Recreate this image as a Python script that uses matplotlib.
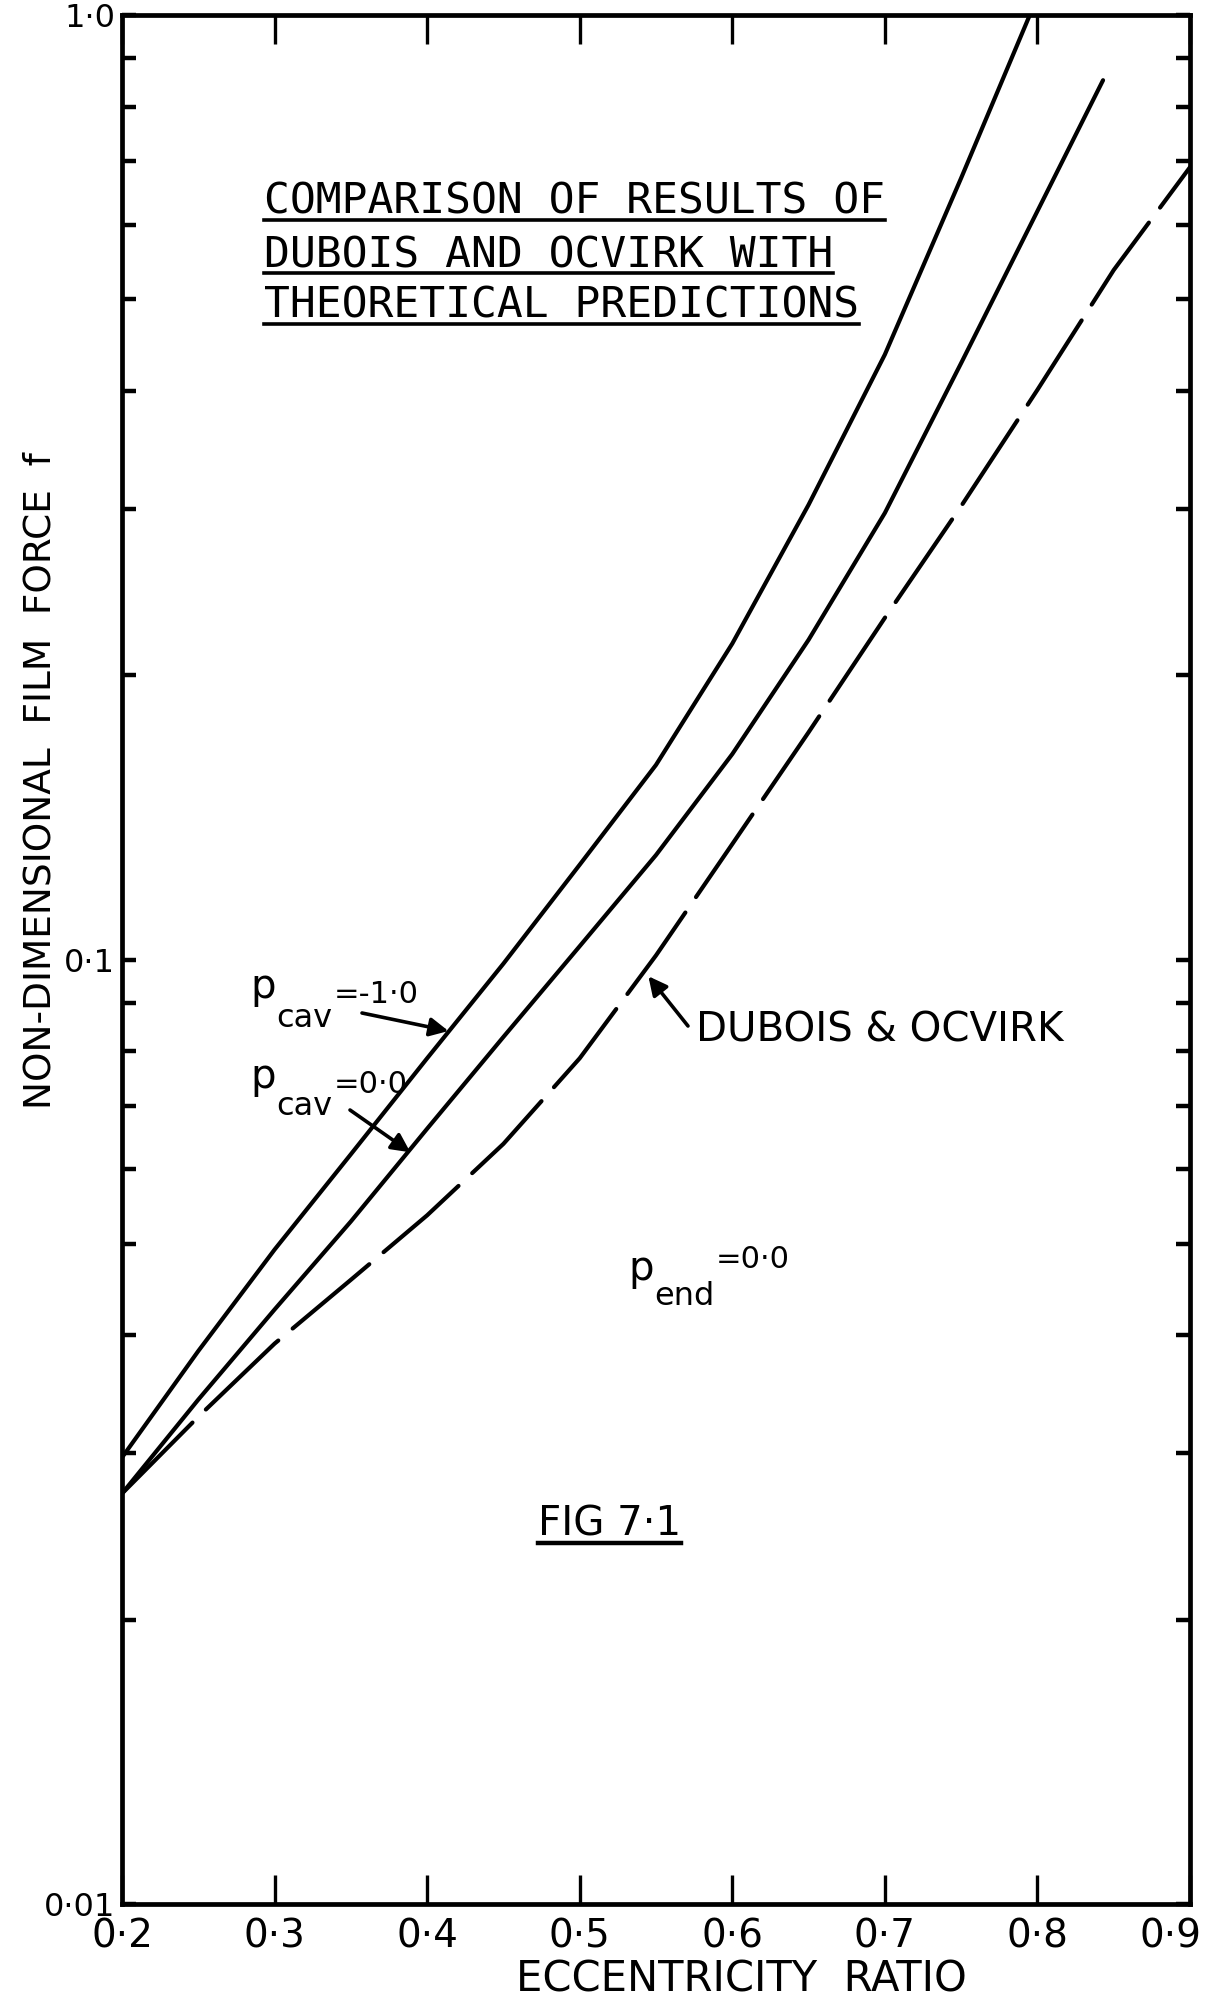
import numpy as np
import matplotlib
matplotlib.use('Agg')
import matplotlib.pyplot as plt
import matplotlib.transforms as mtransforms
from matplotlib.lines import Line2D


# values
x_cav_m1 = [0.2, 0.25, 0.3, 0.35, 0.4, 0.45, 0.5, 0.55, 0.6, 0.65, 0.7, 0.75, 0.795]
f_cav_m1 = [0.0297, 0.0385, 0.0493, 0.0622, 0.0786, 0.0990, 0.1260, 0.1607,
            0.216, 0.303, 0.437, 0.672, 1.0]

x_cav_0 = [0.2, 0.25, 0.3, 0.35, 0.4, 0.45, 0.5, 0.55, 0.6, 0.65, 0.7, 0.75, 0.8, 0.843]
f_cav_0 = [0.0272, 0.0342, 0.0426, 0.0528, 0.0662, 0.0828, 0.1033, 0.129,
           0.165, 0.218, 0.297, 0.428, 0.620, 0.853]

x_dubois = [0.2, 0.25, 0.3, 0.35, 0.4, 0.45, 0.5, 0.55, 0.6, 0.65, 0.7, 0.75, 0.8, 0.85, 0.9]
f_dubois = [0.0272, 0.0328, 0.0392, 0.0458, 0.0536, 0.0638, 0.0786, 0.101,
            0.1325, 0.174, 0.230, 0.302, 0.401, 0.537, 0.69]

x_ticks = [0.2, 0.3, 0.4, 0.5, 0.6, 0.7, 0.8, 0.9]
x_tick_labels = ['0·2', '0·3', '0·4', '0·5', '0·6', '0·7', '0·8', '0·9']
y_ticks = [0.01, 0.1, 1.0]
y_tick_labels = ['0·01', '0·1', '1·0']

title_lines = ['COMPARISON OF RESULTS OF',
               'DUBOIS AND OCVIRK WITH',
               'THEORETICAL PREDICTIONS']


plt.rcParams['font.family'] = ['DejaVu Sans']

W, H = 1210, 2000
fig = plt.figure(figsize=(W/100, H/100), dpi=100)
fig.patch.set_facecolor('white')

L, R, T, B = 122, 1190, 15, 1904
ax = fig.add_axes([L/W, 1 - B/H, (R - L)/W, (B - T)/H])
ax.set_yscale('log')
ax.set_xlim(0.2, 0.9)
ax.set_ylim(0.01, 1.0)

lw = 3.0
ax.plot(x_cav_m1, f_cav_m1, color='black', lw=lw, solid_capstyle='round')
ax.plot(x_cav_0, f_cav_0, color='black', lw=lw, solid_capstyle='round')
ax.plot(x_dubois, f_dubois, color='black', lw=lw, dashes=(24, 4.5),
        dash_capstyle='round')

for s in ax.spines.values():
    s.set_linewidth(3.4)

ax.set_xticks(x_ticks)
ax.set_xticklabels(x_tick_labels, fontsize=28)
ax.set_yticks(y_ticks)
ax.set_yticklabels(y_tick_labels, fontsize=23)
ax.set_yticks([m*10.0**e for e in (-2, -1) for m in range(2, 10)], minor=True)
ax.yaxis.set_minor_formatter(plt.NullFormatter())
ax.xaxis.set_minor_locator(plt.NullLocator())
ax.tick_params(axis='x', which='major', direction='in', length=21, width=2.4,
               top=True, bottom=True, pad=10)
ax.tick_params(axis='y', which='both', direction='in', length=10, width=3.2,
               left=True, right=True, pad=5)

# keep the last x label inside the picture, as in the drawing
last = ax.get_xticklabels()[-1]
last.set_transform(last.get_transform() +
                   mtransforms.ScaledTranslation(-20/100, 0, fig.dpi_scale_trans))

# axis titles
fig.text(741/W, 1 - 1979/H, 'ECCENTRICITY  RATIO', fontsize=30,
         ha='center', va='center')
fig.text(41/W, 1 - 781/H, 'NON-DIMENSIONAL  FILM  FORCE  f', fontsize=27,
         rotation=90, ha='center', va='center')

renderer = fig.canvas.get_renderer()


def underline(txt, y_px, lw_=2.6):
    bb = txt.get_window_extent(renderer)
    fig.add_artist(Line2D([bb.x0/W, bb.x1/W], [1 - y_px/H, 1 - y_px/H],
                          transform=fig.transFigure, color='black', lw=lw_))


# title block
for line, base in zip(title_lines, [214, 267, 318]):
    t = fig.text(264/W, 1 - base/H, line, fontsize=31, family='DejaVu Sans Mono',
                 ha='left', va='baseline')
    underline(t, base + 6)

fig_t = fig.text(538/W, 1 - 1535/H, 'FIG 7·1', fontsize=29, ha='left', va='baseline')
underline(fig_t, 1543, 3.2)


def p_label(x_px, base_px, sub, sub_base, rest, rest_base):
    # p, then the subscript and the raised value placed one after the other
    p = fig.text(x_px/W, 1 - base_px/H, 'p', fontsize=29, ha='left', va='baseline')
    x1 = p.get_window_extent(renderer).x1 + 1
    s = fig.text(x1/W, 1 - sub_base/H, sub, fontsize=23, ha='left', va='baseline')
    x2 = s.get_window_extent(renderer).x1 + 1
    fig.text(x2/W, 1 - rest_base/H, rest, fontsize=22, ha='left', va='baseline')


p_label(250, 998, 'cav', 1027, '=-1·0', 1003)
p_label(250, 1088, 'cav', 1115, '=0·0', 1093)
p_label(628, 1280, 'end', 1305, '=0·0', 1268)

arrow = dict(arrowstyle='-|>', color='black', lw=2.6, mutation_scale=28,
             shrinkA=0, shrinkB=0)
ax.annotate('', xy=(0.414, 0.084), xycoords='data',
            xytext=(362/W, 1 - 1013/H), textcoords='figure fraction',
            arrowprops=arrow)
ax.annotate('', xy=(0.389, 0.0625), xycoords='data',
            xytext=(350/W, 1 - 1110/H), textcoords='figure fraction',
            arrowprops=arrow)
ax.annotate('', xy=(0.545, 0.096), xycoords='data',
            xytext=(688/W, 1 - 1026/H), textcoords='figure fraction',
            arrowprops=arrow)
fig.text(696/W, 1 - 1041/H, 'DUBOIS & OCVIRK', fontsize=29, ha='left', va='baseline')

fig.savefig('out.png', dpi=100, facecolor='white')
